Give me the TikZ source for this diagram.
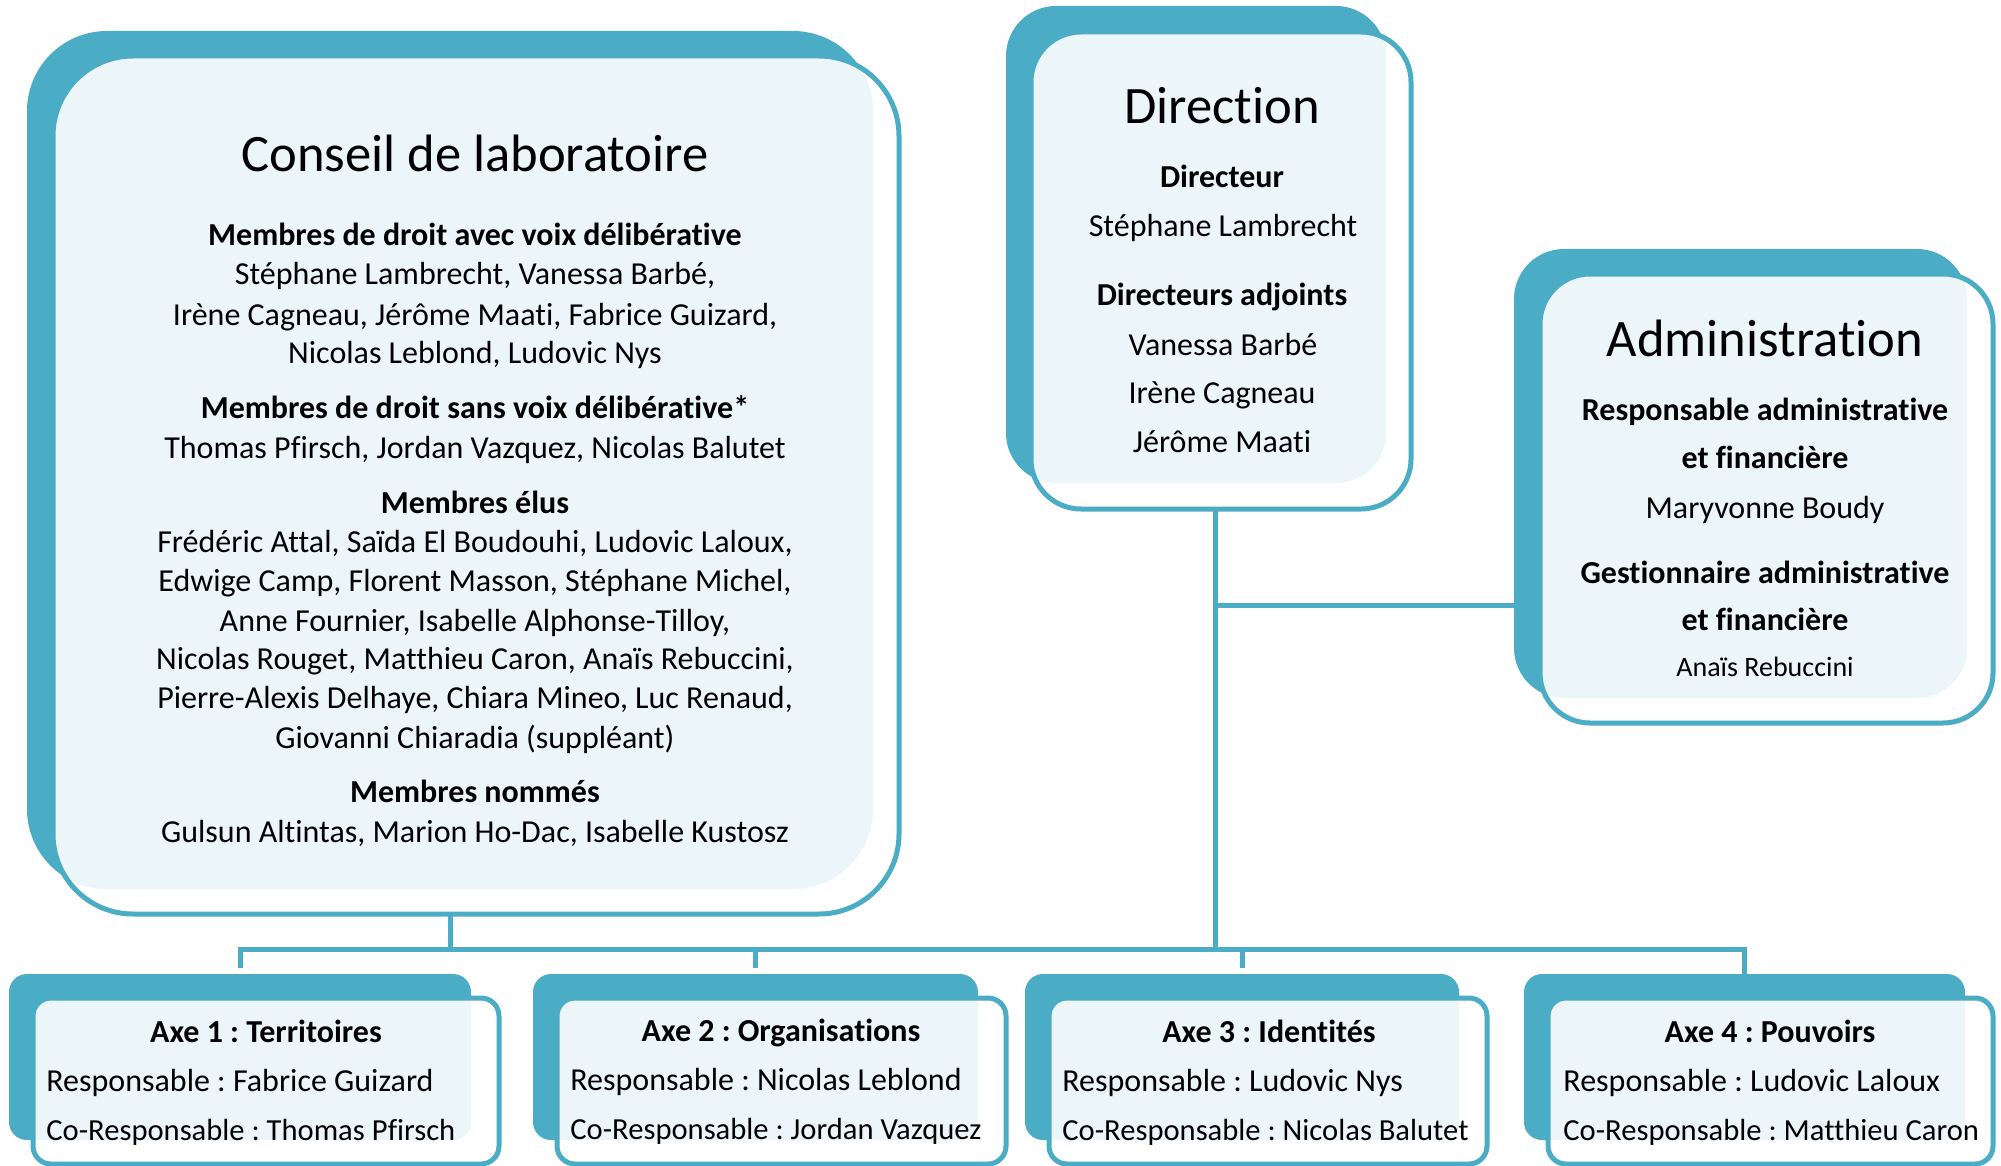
\documentclass[tikz,border=0pt]{standalone}
\usepackage{fontspec}
\setmainfont[Ligatures={NoCommon}]{Carlito}
\usepackage{xcolor}
\usetikzlibrary{positioning}
\definecolor{orgteal}{RGB}{75,172,198}
\definecolor{orglight}{RGB}{236,245,248}
\frenchspacing

\begin{document}
\begin{tikzpicture}[x=0.5pt, y=-0.5pt,
        back/.style={rectangle, fill=orgteal, inner sep=0pt, outer sep=0pt},
        front/.style={rectangle, draw=orgteal, fill=white, line width=2.5pt, inner sep=0pt, outer sep=0pt},
        link/.style={draw=orgteal, line width=2.5pt},
        bigtitle/.style={anchor=base, inner sep=0pt, font=\fontsize{26.3pt}{31pt}\selectfont},
        heading/.style={anchor=base, inner sep=0pt, font=\bfseries\fontsize{16pt}{19pt}\selectfont},
        member/.style={anchor=base, inner sep=0pt, font=\fontsize{16pt}{19pt}\selectfont},
        role/.style={anchor=base west, inner sep=0pt, font=\fontsize{16pt}{19pt}\selectfont},
        corole/.style={anchor=base west, inner sep=0pt, font=\fontsize{15.3pt}{18pt}\selectfont}]
        \useasboundingbox (0,0) rectangle (2001,1166);

        % boxes: teal back, outlined front, light where both meet
        \node[back, minimum width=423pt, minimum height=429pt, rounded corners=40pt] (consA) at (450,460) {};
        \node[front, minimum width=423pt, minimum height=429pt, rounded corners=40pt,
            path picture={\fill[orglight, rounded corners=40pt] (consA.south west) rectangle (consA.north east);}] (cons) at (476,485) {};
        \node[back, minimum width=190pt, minimum height=238.5pt, rounded corners=25pt] (dirA) at (1196,244.5) {};
        \node[front, minimum width=190pt, minimum height=238.5pt, rounded corners=25pt,
            path picture={\fill[orglight, rounded corners=25pt] (dirA.south west) rectangle (dirA.north east);}] (dir) at (1221,270.5) {};
        \node[back, minimum width=226.5pt, minimum height=224.5pt, rounded corners=25pt] (admA) at (1740.5,473.5) {};
        \node[front, minimum width=226.5pt, minimum height=224.5pt, rounded corners=25pt,
            path picture={\fill[orglight, rounded corners=25pt] (admA.south west) rectangle (admA.north east);}] (adm) at (1766.5,498.5) {};
        \node[back, minimum width=231pt, minimum height=83pt, rounded corners=9pt] (axe1A) at (240,1057) {};
        \node[front, minimum width=233pt, minimum height=83pt, rounded corners=9pt,
            path picture={\fill[orglight, rounded corners=9pt] (axe1A.south west) rectangle (axe1A.north east);}] (axe1) at (266,1081) {};
        \node[back, minimum width=222.5pt, minimum height=83pt, rounded corners=9pt] (axe2A) at (755.5,1057) {};
        \node[front, minimum width=224.5pt, minimum height=83pt, rounded corners=9pt,
            path picture={\fill[orglight, rounded corners=9pt] (axe2A.south west) rectangle (axe2A.north east);}] (axe2) at (781.5,1081) {};
        \node[back, minimum width=217pt, minimum height=83pt, rounded corners=9pt] (axe3A) at (1242,1057) {};
        \node[front, minimum width=219pt, minimum height=83pt, rounded corners=9pt,
            path picture={\fill[orglight, rounded corners=9pt] (axe3A.south west) rectangle (axe3A.north east);}] (axe3) at (1268,1081) {};
        \node[back, minimum width=220.5pt, minimum height=83pt, rounded corners=9pt] (axe4A) at (1744.5,1057) {};
        \node[front, minimum width=222.5pt, minimum height=83pt, rounded corners=9pt,
            path picture={\fill[orglight, rounded corners=9pt] (axe4A.south west) rectangle (axe4A.north east);}] (axe4) at (1770.5,1081) {};

        % connectors
        \coordinate (bus) at (1215,949);
        \coordinate (branch) at (1215,605);
        \draw[link] (bus |- dir.south) -- (bus);
        \draw[link] (branch) -- (branch -| admA.west);
        \draw[link] (consA.south |- cons.south) -- (consA.south |- bus);
        \draw[link, shorten <=3pt] (axe1A.north) |- (bus) -| (axe4A.north);
        \draw[link, shorten <=3pt] (axe2A.north) -- (axe2A.north |- bus);
        \draw[link, shorten <=3pt] (axe3A.north) -- (axe3A.north |- bus);

        \node[bigtitle] (c0) at (475,172) {Conseil de laboratoire};
        \node[heading] (c1) at (475,246) {Membres de droit avec voix délibérative};
        \node[member] (c2) at (475,285) {Stéphane Lambrecht, Vanessa Barbé,};
        \node[member] (c3) at (475,325) {Irène Cagneau, Jérôme Maati, Fabrice Guizard,};
        \node[member] (c4) at (475,363) {Nicolas Leblond, Ludovic Nys};
        \node[heading] (c5) at (475,418) {Membres de droit sans voix délibérative*};
        \node[member] (c6) at (475,458) {Thomas Pfirsch, Jordan Vazquez, Nicolas Balutet};
        \node[heading] (c7) at (475,513) {Membres élus};
        \node[member] (c8) at (475,552) {Frédéric Attal, Saïda El Boudouhi, Ludovic Laloux,};
        \node[member] (c9) at (475,591) {Edwige Camp, Florent Masson, Stéphane Michel,};
        \node[member] (c10) at (475,631) {Anne Fournier, Isabelle Alphonse-Tilloy,};
        \node[member] (c11) at (475,669) {Nicolas Rouget, Matthieu Caron, Anaïs Rebuccini,};
        \node[member] (c12) at (475,708) {Pierre-Alexis Delhaye, Chiara Mineo, Luc Renaud,};
        \node[member] (c13) at (475,748) {Giovanni Chiaradia (suppléant)};
        \node[heading] (c14) at (475,802) {Membres nommés};
        \node[member] (c15) at (475,842) {Gulsun Altintas, Marion Ho-Dac, Isabelle Kustosz};

        \node[bigtitle] (d0) at (1222,124) {Direction};
        \node[heading] (d1) at (1222,188) {Directeur};
        \node[member] (d2) at (1223,236) {Stéphane Lambrecht};
        \node[heading] (d3) at (1222,305.5) {Directeurs adjoints};
        \node[member] (d4) at (1223,355) {Vanessa Barbé};
        \node[member] (d5) at (1222,403.5) {Irène Cagneau};
        \node[member] (d6) at (1222,452) {Jérôme Maati};

        \node[bigtitle] (a0) at (1765,356) {Administration};
        \node[heading] (a1) at (1765,420) {Responsable administrative};
        \node[heading] (a2) at (1765,468) {et financière};
        \node[member] (a3) at (1765,518) {Maryvonne Boudy};
        \node[heading] (a4) at (1765,583) {Gestionnaire administrative};
        \node[heading] (a5) at (1765,630.5) {et financière};
        \node[member, font=\fontsize{14pt}{17pt}\selectfont] (a6) at (1765,676) {Anaïs Rebuccini};

        \node[heading] (x1) at (266,1042) {Axe 1 : Territoires};
        \node[role] (x1r) at (46,1091) {Responsable : Fabrice Guizard};
        \node[corole] (x1c) at (46,1140) {Co-Responsable : Thomas Pfirsch};
        \node[heading] (x2) at (781,1041) {Axe 2 : Organisations};
        \node[role] (x2r) at (570,1090) {Responsable : Nicolas Leblond};
        \node[corole] (x2c) at (570,1139) {Co-Responsable : Jordan Vazquez};
        \node[heading] (x3) at (1269,1042) {Axe 3 : Identités};
        \node[role] (x3r) at (1062,1091) {Responsable : Ludovic Nys};
        \node[corole] (x3c) at (1062,1140) {Co-Responsable : Nicolas Balutet};
        \node[heading] (x4) at (1770,1042) {Axe 4 : Pouvoirs};
        \node[role] (x4r) at (1563,1091) {Responsable : Ludovic Laloux};
        \node[corole] (x4c) at (1563,1140) {Co-Responsable : Matthieu Caron};
    \end{tikzpicture}
\end{document}
